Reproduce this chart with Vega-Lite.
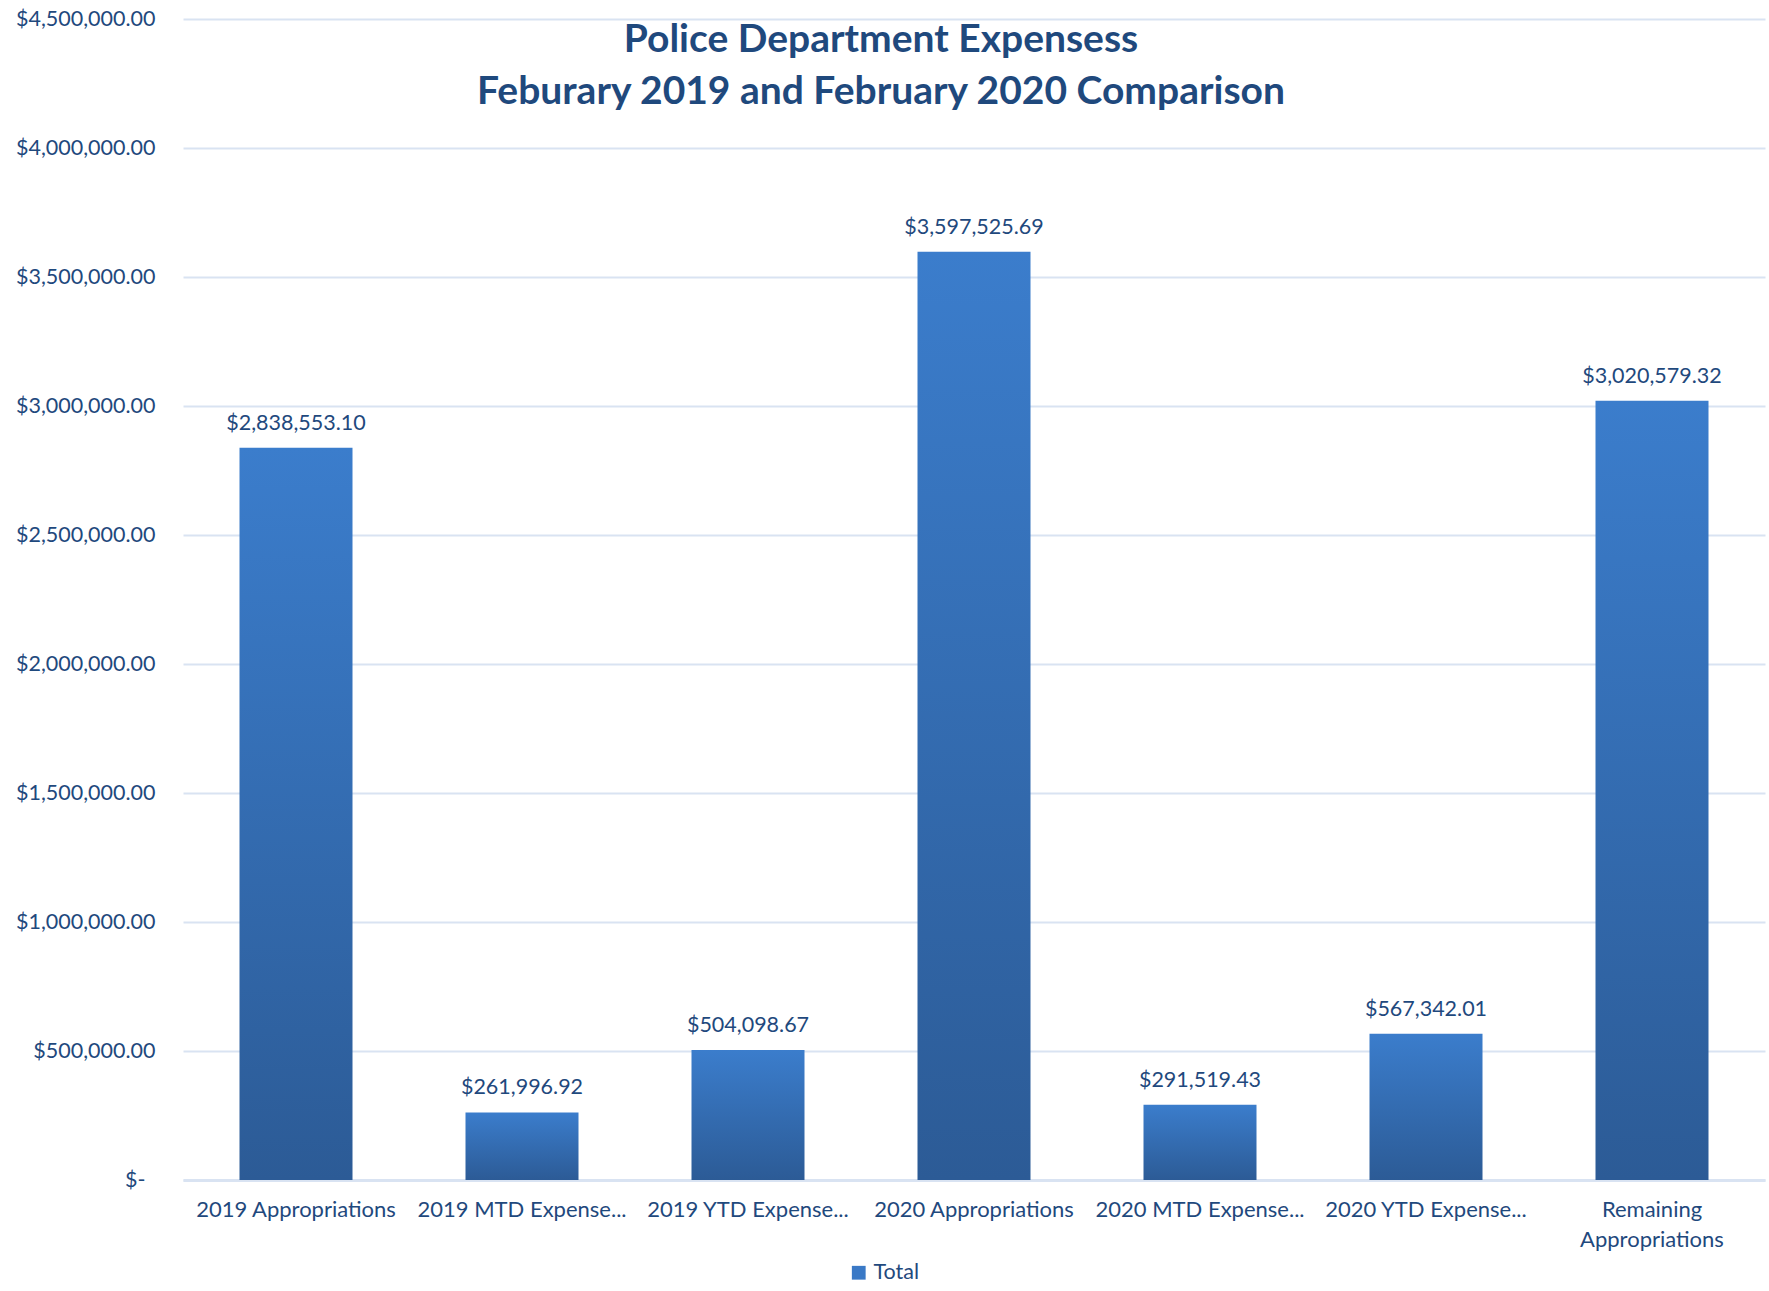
{
  "$schema": "https://vega.github.io/schema/vega-lite/v6.json",
  "width": 1582,
  "height": 1161,
  "autosize": "none",
  "padding": {"left": 183, "top": 19, "right": 4, "bottom": 111},
  "background": "white",
  "view": {"stroke": null},
  "title": {
    "text": ["Police Department Expensess", "Feburary 2019 and February 2020 Comparison"],
    "font": "Lato",
    "fontSize": 39,
    "fontWeight": "bold",
    "color": "#1F497D",
    "lineHeight": 52,
    "anchor": "middle",
    "dx": -93,
    "offset": -104
  },
  "data": {
    "values": [
      {"item": "2019 Appropriations", "total": 2838553.10},
      {"item": "2019 MTD Expense...", "total": 261996.92},
      {"item": "2019 YTD Expense...", "total": 504098.67},
      {"item": "2020 Appropriations", "total": 3597525.69},
      {"item": "2020 MTD Expense...", "total": 291519.43},
      {"item": "2020 YTD Expense...", "total": 567342.01},
      {"item": "Remaining Appropriations", "total": 3020579.32}
    ]
  },
  "encoding": {
    "x": {
      "field": "item",
      "type": "nominal",
      "sort": null,
      "title": null,
      "scale": {"paddingInner": 0.5, "paddingOuter": 0.25},
      "axis": {
        "labelAngle": 0,
        "labelFont": "Lato",
        "labelFontSize": 22,
        "labelColor": "#1F497D",
        "labelPadding": 19,
        "labelLineHeight": 30,
        "labelLimit": 0,
        "labelExpr": "datum.label === 'Remaining Appropriations' ? ['Remaining', 'Appropriations'] : datum.label",
        "ticks": false,
        "domainColor": "#D9E3F2",
        "domainWidth": 3
      }
    },
    "y": {
      "field": "total",
      "type": "quantitative",
      "title": null,
      "scale": {"domain": [0, 4500000], "nice": false},
      "axis": {
        "values": [0, 500000, 1000000, 1500000, 2000000, 2500000, 3000000, 3500000, 4000000, 4500000],
        "labelExpr": "datum.value === 0 ? '$-' : format(datum.value, '$,.2f')",
        "labelFont": "Lato",
        "labelFontSize": 21.5,
        "labelColor": "#1F497D",
        "labelPadding": {"condition": {"test": "datum.value === 0", "value": 38}, "value": 28},
        "ticks": false,
        "domain": false,
        "gridColor": "#D9E3F2",
        "gridWidth": 2
      }
    }
  },
  "layer": [
    {
      "mark": {
        "type": "bar",
        "color": {
          "gradient": "linear",
          "x1": 0, "y1": 0, "x2": 0, "y2": 1,
          "stops": [
            {"offset": 0, "color": "#3B7DCC"},
            {"offset": 1, "color": "#2C5B96"}
          ]
        }
      }
    },
    {
      "mark": {
        "type": "text",
        "baseline": "bottom",
        "dy": -13,
        "font": "Lato",
        "fontSize": 21.5,
        "color": "#1F497D"
      },
      "encoding": {
        "text": {"field": "total", "type": "quantitative", "format": "$,.2f"}
      }
    },
    {
      "transform": [{"filter": "false"}],
      "mark": {"type": "point", "shape": "square", "filled": true},
      "encoding": {
        "color": {
          "datum": "Total",
          "scale": {"range": ["#3A79C6"]},
          "legend": {
            "title": null,
            "orient": "none",
            "legendX": 665,
            "legendY": 1243,
            "symbolType": "square",
            "symbolSize": 190,
            "symbolOpacity": 1,
            "labelFont": "Lato",
            "labelFontSize": 21.5,
            "labelColor": "#1F497D",
            "labelOffset": 4
          }
        }
      }
    }
  ]
}
